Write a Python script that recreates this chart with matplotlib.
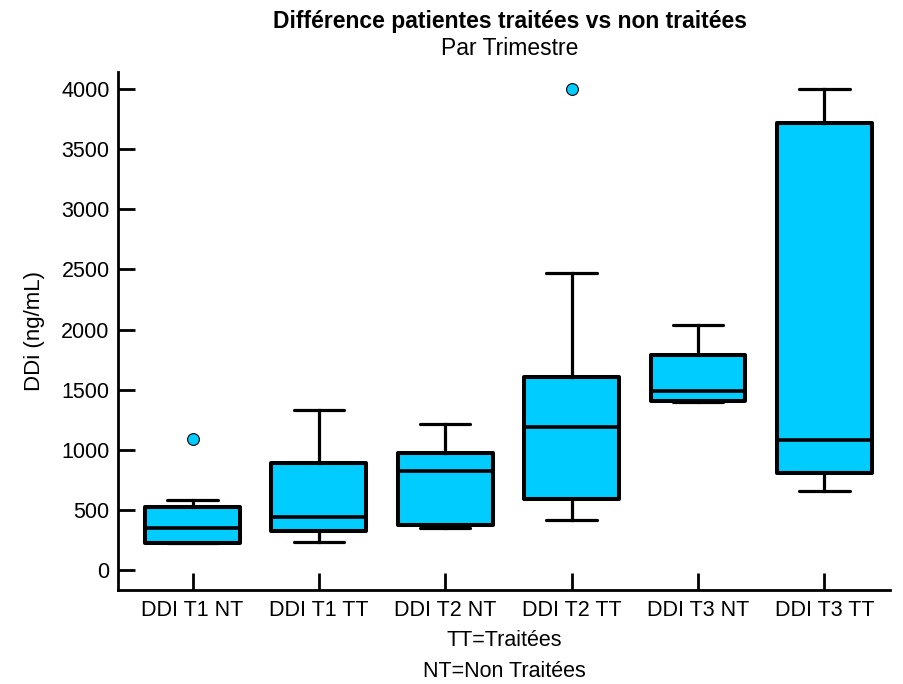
import matplotlib
matplotlib.use("Agg")
import matplotlib.pyplot as plt

plt.rcParams['font.family'] = ['Liberation Sans', 'DejaVu Sans']

# summary values per group (ng/mL)
labels = ['DDI T1 NT', 'DDI T1 TT', 'DDI T2 NT', 'DDI T2 TT', 'DDI T3 NT', 'DDI T3 TT']
q1 = [222, 327, 374, 588, 1405, 804]
med = [347, 443, 826, 1192, 1491, 1081]
q3 = [527, 887, 976, 1608, 1788, 3720]
whislo = [222, 235, 347, 416, 1400, 654]
whishi = [582, 1331, 1214, 2467, 2037, 4000]
fliers = [[1087], [], [], [4000], [], []]

stats = []
for i in range(len(labels)):
    stats.append(dict(label=labels[i], q1=q1[i], med=med[i], q3=q3[i],
                      whislo=whislo[i], whishi=whishi[i], fliers=fliers[i]))

fig = plt.figure(figsize=(9.04, 6.84), dpi=100)
ax = fig.add_axes([0.1305, 0.1374, 0.854, 0.7573])

ax.bxp(stats, positions=range(1, 7), widths=0.75, capwidths=0.4,
       patch_artist=True,
       boxprops=dict(facecolor='#00ccff', edgecolor='black', linewidth=2.9,
                     joinstyle='round'),
       medianprops=dict(color='black', linewidth=2.6),
       whiskerprops=dict(color='black', linewidth=2.3),
       capprops=dict(color='black', linewidth=2.3, solid_capstyle='round'),
       flierprops=dict(marker='o', markerfacecolor='#00ccff',
                       markeredgecolor='black', markeredgewidth=0.8,
                       markersize=8.5))

ax.set_xlim(0.41, 6.52)
ax.set_ylim(-166, 4141)
ax.set_yticks(range(0, 4001, 500))

for s in ['top', 'right']:
    ax.spines[s].set_visible(False)
for s in ['left', 'bottom']:
    ax.spines[s].set_linewidth(2)

ax.tick_params(axis='both', direction='in', width=2, length=12,
               labelsize=15.5, pad=6)
ax.tick_params(axis='x', pad=7)

ax.set_ylabel('DDi (ng/mL)', fontsize=16, labelpad=12)
ax.set_xlabel('TT=Traitées\nNT=Non Traitées', fontsize=15.5, labelpad=7,
              linespacing=1.6)

fig.text(0.564, 0.969, 'Différence patientes traitées vs non traitées',
         ha='center', va='center', fontsize=16.5, fontweight='bold')
fig.text(0.564, 0.929, 'Par Trimestre', ha='center', va='center', fontsize=16.5)

fig.savefig('out.png', dpi=100)
